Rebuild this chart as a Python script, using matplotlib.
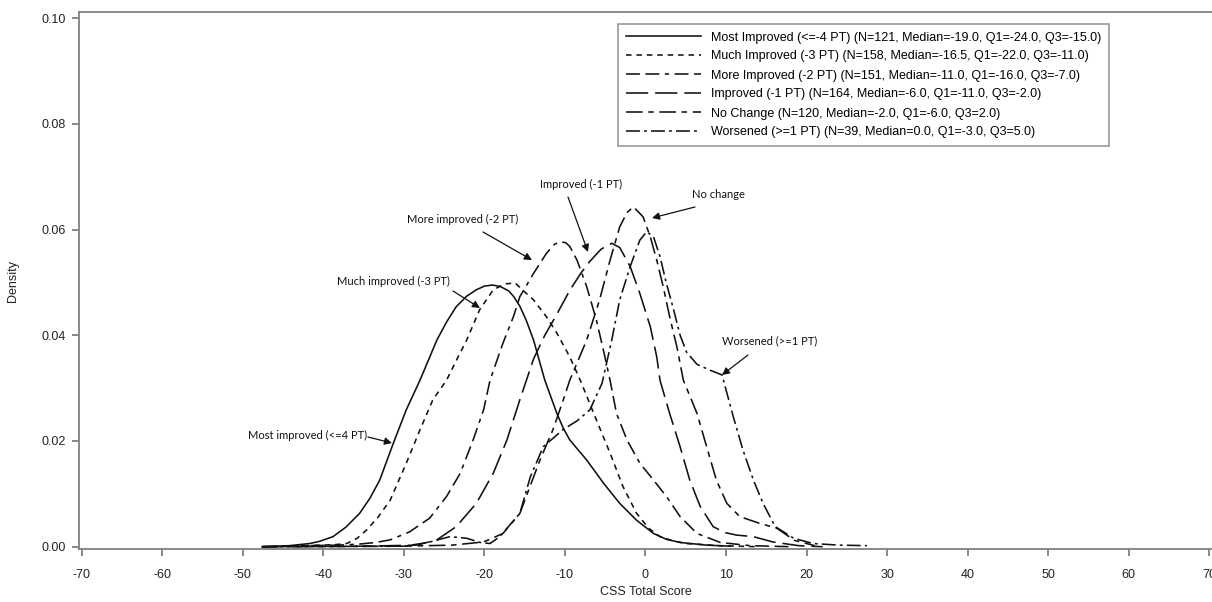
import matplotlib
matplotlib.use("Agg")
import matplotlib.pyplot as plt

# ---------------- data ----------------
labels = [
    "Most Improved (<=-4 PT) (N=121, Median=-19.0, Q1=-24.0, Q3=-15.0)",
    "Much Improved (-3 PT) (N=158, Median=-16.5, Q1=-22.0, Q3=-11.0)",
    "More Improved (-2 PT) (N=151, Median=-11.0, Q1=-16.0, Q3=-7.0)",
    "Improved (-1 PT) (N=164, Median=-6.0, Q1=-11.0, Q3=-2.0)",
    "No Change (N=120, Median=-2.0, Q1=-6.0, Q3=2.0)",
    "Worsened (>=1 PT) (N=39, Median=0.0, Q1=-3.0, Q3=5.0)",
]

most_x = [-47.6, -44.2, -41.7, -40.5, -38.8, -37.2, -35.5, -34.2, -33.0, -31.3, -29.7, -28.0,
          -25.9, -24.7, -23.5, -22.2, -21.0, -20.0, -19.0, -18.0, -17.0, -16.4, -15.6, -14.8,
          -13.9, -12.5, -11.0, -10.2, -9.4, -8.3, -7.3, -5.2, -3.2, -1.1, 1.0, 2.6,
          4.3, 7.6, 10.5]
most_y = [0.0000, 0.0002, 0.0006, 0.0010, 0.0019, 0.0037, 0.0063, 0.0092, 0.0126, 0.0196, 0.0259, 0.0315,
          0.0391, 0.0425, 0.0454, 0.0474, 0.0486, 0.0493, 0.0495, 0.0492, 0.0484, 0.0474, 0.0455, 0.0428,
          0.0391, 0.0315, 0.0252, 0.0224, 0.0202, 0.0182, 0.0164, 0.0120, 0.0082, 0.0050, 0.0025, 0.0014,
          0.0008, 0.0003, 0.0001]

much_x = [-47.6, -42.0, -38.5, -37.1, -35.8, -34.6, -33.2, -31.7, -29.7, -28.0, -26.4, -24.7,
          -23.4, -22.2, -20.6, -18.9, -17.5, -16.2, -15.0, -13.9, -12.3, -11.0, -9.4, -8.1,
          -6.1, -4.4, -2.8, -1.1, 0.4, 1.8, 3.4, 5.1, 9.0, 14.0]
much_y = [0.0000, 0.0002, 0.0004, 0.0006, 0.0016, 0.0032, 0.0056, 0.0088, 0.0158, 0.0221, 0.0278, 0.0315,
          0.0355, 0.0391, 0.0448, 0.0486, 0.0497, 0.0499, 0.0482, 0.0467, 0.0435, 0.0404, 0.0359, 0.0315,
          0.0240, 0.0177, 0.0114, 0.0063, 0.0035, 0.0019, 0.0011, 0.0006, 0.0002, 0.0000]

more_x = [-47.6, -42.0, -38.0, -35.5, -33.5, -31.7, -29.3, -26.8, -24.7, -23.0, -21.4, -20.1,
          -19.3, -17.7, -16.4, -15.6, -13.9, -12.3, -11.3, -10.6, -9.9, -9.4, -8.5, -7.3,
          -6.1, -5.2, -4.4, -3.6, -2.3, -0.7, 1.0, 2.6, 4.3, 6.4, 9.3, 13.0, 18.0]
more_y = [0.0000, 0.0002, 0.0003, 0.0005, 0.0008, 0.0013, 0.0028, 0.0054, 0.0095, 0.0139, 0.0202, 0.0259,
          0.0315, 0.0385, 0.0435, 0.0473, 0.0517, 0.0555, 0.0572, 0.0577, 0.0575, 0.0568, 0.0542, 0.0492,
          0.0429, 0.0370, 0.0315, 0.0252, 0.0202, 0.0158, 0.0126, 0.0095, 0.0057, 0.0025, 0.0008, 0.0002,
          0.0000]

impr_x = [-47.6, -35.0, -28.4, -25.9, -23.5, -21.0, -18.9, -17.2, -15.6, -13.9, -12.5, -11.0,
          -9.4, -8.0, -6.9, -5.5, -4.2, -3.2, -1.9, -0.7, 0.6, 1.4, 1.8, 3.0,
          4.3, 5.5, 6.8, 8.4, 9.8, 11.3, 13.4, 15.8, 19.0, 22.0]
impr_y = [0.0000, 0.0001, 0.0003, 0.0013, 0.0038, 0.0082, 0.0139, 0.0202, 0.0278, 0.0355, 0.0400, 0.0440,
          0.0485, 0.0518, 0.0540, 0.0563, 0.0574, 0.0566, 0.0530, 0.0479, 0.0416, 0.0359, 0.0315, 0.0252,
          0.0189, 0.0126, 0.0076, 0.0038, 0.0027, 0.0022, 0.0019, 0.0009, 0.0002, 0.0000]

noch_x = [-47.6, -30.0, -24.0, -20.1, -17.7, -15.6, -13.1, -11.5, -10.2, -9.4, -7.3, -5.7,
          -4.4, -3.2, -2.3, -1.5, -0.3, 0.6, 1.4, 2.2, 3.0, 3.9, 4.7, 6.4,
          7.6, 8.8, 10.1, 11.7, 14.2, 16.3, 18.5, 21.0]
noch_y = [0.0000, 0.0001, 0.0003, 0.0009, 0.0025, 0.0063, 0.0164, 0.0221, 0.0278, 0.0315, 0.0391, 0.0467,
          0.0542, 0.0605, 0.0632, 0.0643, 0.0624, 0.0586, 0.0542, 0.0492, 0.0435, 0.0378, 0.0315, 0.0252,
          0.0189, 0.0126, 0.0082, 0.0057, 0.0044, 0.0035, 0.0012, 0.0002]

wors_x = [-47.6, -30.0, -27.0, -24.3, -22.2, -20.5, -19.3, -18.1, -15.6, -14.3, -12.7, -10.2,
          -8.5, -6.9, -5.4, -4.2, -3.2, -1.9, -0.7, 0.15, 1.0, 1.8, 2.6, 3.5,
          4.3, 5.1, 6.4, 8.0, 9.5, 10.9, 12.1, 13.4, 14.6, 16.1, 18.4, 20.8, 24.0, 27.5]
wors_y = [0.0000, 0.0001, 0.0008, 0.0019, 0.0016, 0.0008, 0.0006, 0.0019, 0.0063, 0.0132, 0.0189, 0.0222,
          0.0238, 0.0259, 0.0309, 0.0390, 0.0467, 0.0530, 0.0580, 0.0596, 0.0586, 0.0549, 0.0498, 0.0448,
          0.0400, 0.0368, 0.0345, 0.0334, 0.0325, 0.0246, 0.0183, 0.0126, 0.0082, 0.0038, 0.0016, 0.0006,
          0.0003, 0.0002]

x_ticks = [-70, -60, -50, -40, -30, -20, -10, 0, 10, 20, 30, 40, 50, 60, 70]
y_ticks = [0.00, 0.02, 0.04, 0.06, 0.08, 0.10]

# ---------------- figure ----------------
plt.rcParams['font.family'] = ['Liberation Sans', 'DejaVu Sans']
plt.rcParams['lines.scale_dashes'] = False

W, H = 1212, 602
fig = plt.figure(figsize=(W / 100, H / 100), dpi=100)
ax = fig.add_axes([79.3 / W, (H - 549.3) / H, (W - 79.3) / W, (549.3 - 12) / H])
ax.set_xlim(-70.3, 70.34)
ax.set_ylim(-0.00049, 0.10115)

styles = [
    dict(linestyle='-'),
    dict(linestyle=(0, (4, 3.5))),
    dict(linestyle=(0, (10, 4, 10, 4, 3, 4))),
    dict(linestyle=(0, (16, 5))),
    dict(linestyle=(0, (12, 4, 4, 4))),
    dict(linestyle=(0, (10, 3, 2, 3))),
]
series = [(most_x, most_y), (much_x, much_y), (more_x, more_y),
          (impr_x, impr_y), (noch_x, noch_y), (wors_x, wors_y)]
for (xs, ys), lab, st in zip(series, labels, styles):
    ax.plot(xs, ys, color='#111111', lw=1.15, label=lab, **st)

spine_c = '#808080'
for s in ['left', 'bottom', 'top']:
    ax.spines[s].set_color(spine_c)
    ax.spines[s].set_linewidth(1.3)
ax.spines['right'].set_visible(False)
ax.set_xticks(x_ticks)
ax.set_xticklabels([f"{v}" for v in x_ticks])
ax.set_yticks(y_ticks)
ax.set_yticklabels([f"{v:.2f}" for v in y_ticks])
ax.tick_params(axis='both', colors=spine_c, labelcolor='#222222', labelsize=9,
               length=5, width=1.3, direction='out')
ax.tick_params(axis='x', pad=9)
ax.tick_params(axis='y', pad=5)
ax.set_xlabel("CSS Total Score", fontsize=9, color='#222222', labelpad=4)
ax.set_ylabel("Density", fontsize=9, color='#222222', labelpad=16)

leg = ax.legend(loc='upper left', bbox_to_anchor=(618 / W, 1 - 24 / H),
                bbox_transform=fig.transFigure, fontsize=9, frameon=True,
                fancybox=False, borderaxespad=0, borderpad=0.6,
                handlelength=6.0, handletextpad=0.85, labelspacing=0.56)
leg.get_frame().set_edgecolor('#808080')
leg.get_frame().set_linewidth(1.2)


def d(px, py):
    return ((px - 645.5) / 8.054, (546.7 - py) / 5286.0)


ann_font = ['Lato', 'DejaVu Sans']
notes = [
    ("Most improved (<=4 PT)", (248, 435), (368, 437), (392, 443)),
    ("Much improved (-3 PT)", (337, 281), (453, 291), (480, 308)),
    ("More improved (-2 PT)", (407, 219), (483, 232), (532, 260)),
    ("Improved (-1 PT)", (540, 184), (568, 197), (588, 252)),
    ("No change", (692, 195), (695, 207), (652, 218)),
    ("Worsened (>=1 PT)", (722, 341), (748, 355), (722, 375)),
]
for txt, tpos, a0, a1 in notes:
    ax.text(*d(*tpos), txt, fontsize=8, family=ann_font, ha='left', va='center', color='#111111')
    ax.annotate('', xy=d(*a1), xytext=d(*a0),
                arrowprops=dict(arrowstyle='-|>', color='#111111', lw=0.9,
                                mutation_scale=11, shrinkA=0, shrinkB=0))

fig.savefig("out.png", dpi=100)
